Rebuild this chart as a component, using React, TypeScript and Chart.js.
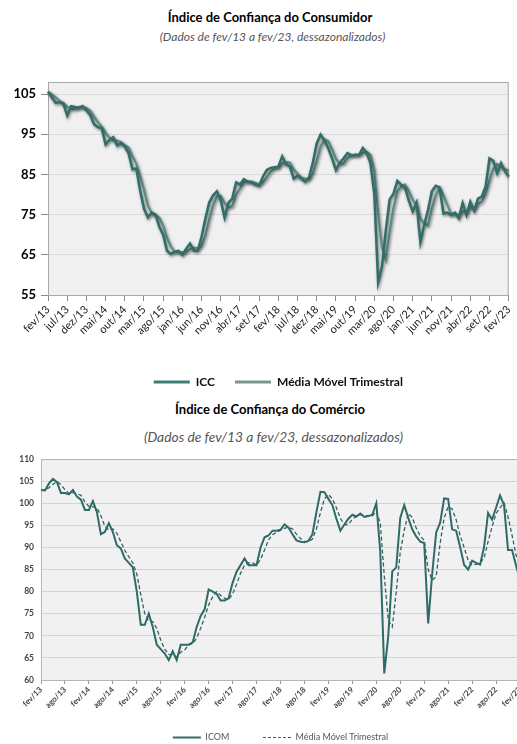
import React, { useEffect, useRef } from "react";
import { Chart, registerables } from "chart.js";

Chart.register(...registerables);

// ---------- categories ----------
const MONTHS = ["jan", "fev", "mar", "abr", "mai", "jun", "jul", "ago", "set", "out", "nov", "dez"];
const CATEGORIES: string[] = [];
for (let k = 0; k <= 120; k++) {
  CATEGORIES.push(`${MONTHS[(1 + k) % 12]}/${13 + Math.floor((1 + k) / 12)}`);
}

// ---------- Índice de Confiança do Consumidor ----------
const ICC = [
  105.6, 104.2, 102.8, 103.0, 102.6, 99.7, 102.0, 101.8, 101.5, 102.0,
  101.0, 99.8, 97.5, 96.8, 96.5, 92.5, 93.6, 94.3, 92.2, 92.8,
  92.0, 90.3, 86.3, 86.5, 81.0, 76.5, 74.3, 75.5, 75.0, 72.0,
  70.0, 66.0, 65.2, 65.8, 66.0, 65.0, 66.5, 67.8, 66.0, 66.0,
  69.5, 74.0, 78.0, 79.8, 80.8, 78.5, 74.3, 78.0, 79.0, 83.0,
  82.5, 83.8, 83.2, 83.0, 82.5, 82.2, 84.5, 86.1, 86.6, 86.8,
  86.9, 89.5, 87.5, 87.0, 84.0, 84.7, 84.0, 83.2, 84.3, 88.0,
  92.7, 94.9, 93.5, 91.5, 89.0, 86.1, 87.9, 89.0, 90.3, 89.8,
  89.8, 89.9, 91.6, 90.4, 87.8, 80.2, 58.2, 62.1, 71.1, 78.8,
  80.2, 83.4, 82.4, 81.7, 78.5, 75.8, 78.0, 68.2, 72.5, 76.2,
  80.9, 82.2, 81.8, 75.3, 75.5, 74.9, 75.5, 74.1, 77.9, 74.9,
  78.2, 76.0, 79.0, 79.5, 82.0, 89.0, 88.4, 85.3, 87.8, 85.8,
  84.5,
];
const ICC_MA = [
  105.6, 104.9, 104.2, 103.3, 102.8, 101.8, 101.4, 101.2, 101.8, 101.8,
  101.5, 100.9, 99.4, 98.0, 96.9, 95.3, 94.2, 93.5, 93.4, 93.1,
  92.3, 91.7, 89.5, 87.7, 84.6, 81.3, 77.3, 75.4, 74.9, 74.2,
  72.3, 69.3, 67.1, 65.7, 65.7, 65.6, 65.8, 66.4, 66.8, 66.6,
  67.2, 69.8, 73.8, 77.3, 79.5, 79.7, 77.9, 76.9, 77.1, 80.0,
  81.5, 83.1, 83.2, 83.3, 82.9, 82.6, 83.1, 84.3, 85.7, 86.5,
  86.8, 87.7, 88.0, 88.0, 86.2, 85.2, 84.2, 84.0, 83.8, 85.2,
  88.3, 91.9, 93.7, 93.3, 91.3, 88.9, 87.7, 87.7, 89.1, 89.7,
  90.0, 89.8, 90.4, 90.6, 89.9, 86.1, 75.4, 66.8, 63.8, 70.7,
  76.7, 80.8, 82.0, 82.5, 80.9, 78.7, 77.4, 74.0, 72.9, 72.3,
  76.5, 79.8, 81.6, 79.8, 77.5, 75.2, 75.3, 74.8, 75.8, 75.6,
  77.0, 76.4, 77.7, 78.2, 80.2, 83.5, 86.5, 87.6, 87.2, 86.3,
  86.0,
];
const ICC_Y_TICKS = [55, 65, 75, 85, 95, 105];
const ICC_Y_MIN = 55;
const ICC_Y_MAX = 108;
const ICC_LABEL_EVERY = 5;

// ---------- Índice de Confiança do Comércio ----------
const ICOM = [
  103.0, 102.9, 104.5, 105.5, 104.8, 102.3, 102.3, 102.0, 103.0, 101.5,
  100.8, 98.5, 98.5, 100.5, 98.0, 93.0, 93.5, 95.5, 93.5, 90.5,
  89.8, 87.5, 86.5, 85.5, 80.0, 72.5, 72.5, 75.0, 72.0, 68.0,
  67.0, 66.0, 64.5, 66.5, 64.5, 68.0, 68.0, 68.0, 68.5, 72.0,
  74.5, 76.0, 80.5, 80.0, 79.5, 78.0, 78.0, 78.5, 82.0, 84.5,
  86.0, 87.5, 86.0, 86.0, 86.0, 90.0, 92.3, 92.7, 93.8, 93.8,
  94.0, 95.2, 94.5, 93.0, 91.6, 91.3, 91.2, 91.5, 93.0, 98.0,
  102.6, 102.5, 101.0, 99.6, 96.5, 93.8, 95.2, 96.5, 97.4, 97.0,
  97.7, 96.9, 97.1, 97.4, 100.0, 89.0, 61.5, 70.0, 84.6, 85.5,
  96.7, 99.6, 96.7, 94.1, 92.5, 91.3, 91.0, 72.8, 84.0, 93.4,
  95.6, 101.1, 101.0, 94.1, 93.8, 90.1, 86.1, 85.0, 87.0, 86.5,
  86.1, 90.1, 97.8, 96.3, 99.0, 101.8, 99.6, 89.4, 89.4, 86.0,
  82.5,
];
const ICOM_MA = [
  103.0, 103.0, 103.5, 104.3, 104.9, 104.2, 103.1, 102.2, 102.4, 102.2,
  101.8, 100.3, 99.3, 99.2, 99.0, 97.2, 94.8, 94.0, 94.2, 93.2,
  91.3, 89.3, 87.9, 86.5, 84.0, 79.3, 75.0, 73.3, 73.2, 71.7,
  69.0, 67.0, 65.8, 65.7, 65.2, 66.3, 66.8, 68.0, 68.2, 69.5,
  71.7, 74.2, 77.0, 78.8, 80.0, 79.2, 78.5, 78.2, 79.5, 81.7,
  84.2, 86.0, 86.5, 86.5, 86.0, 87.3, 89.4, 91.7, 92.9, 93.4,
  93.9, 94.3, 94.6, 94.2, 93.0, 92.0, 91.4, 91.3, 91.9, 94.2,
  97.9, 101.0, 102.0, 101.0, 99.0, 96.6, 95.2, 95.2, 96.4, 97.0,
  97.4, 97.2, 97.2, 97.1, 98.2, 95.5, 83.5, 73.5, 72.0, 80.0,
  88.9, 93.9, 97.7, 96.8, 94.4, 92.6, 91.6, 85.0, 82.6, 83.4,
  91.0, 96.7, 99.2, 98.7, 96.3, 92.7, 90.0, 87.1, 86.0, 86.2,
  86.5, 87.6, 91.3, 94.7, 97.7, 99.0, 100.1, 96.9, 92.8, 88.3,
  86.0,
];
const ICOM_Y_MIN = 60;
const ICOM_Y_MAX = 110;
const ICOM_Y_STEP = 5;
const ICOM_LABEL_EVERY = 6;

// ---------- plugins ----------
const plotFrame = (bg: string, border: string) => ({
  id: "plotFrame",
  beforeDraw(chart: any) {
    const { ctx, chartArea: a } = chart;
    ctx.save();
    ctx.fillStyle = bg;
    ctx.fillRect(a.left, a.top, a.right - a.left, a.bottom - a.top);
    ctx.restore();
  },
  beforeDatasetsDraw(chart: any) {
    const { ctx, chartArea: a } = chart;
    ctx.save();
    ctx.strokeStyle = border;
    ctx.lineWidth = 1;
    ctx.strokeRect(a.left + 0.5, a.top + 0.5, a.right - a.left - 1, a.bottom - a.top);
    ctx.restore();
  },
});

const lineShadow = {
  id: "lineShadow",
  beforeDatasetDraw(chart: any) {
    const ctx = chart.ctx;
    ctx.save();
    ctx.shadowColor = "rgba(0,0,0,0.5)";
    ctx.shadowBlur = 3;
    ctx.shadowOffsetX = 1;
    ctx.shadowOffsetY = 1.5;
  },
  afterDatasetDraw(chart: any) {
    chart.ctx.restore();
  },
};

const FONT = "Lato, 'Open Sans', sans-serif";

function useChart(ref: React.RefObject<HTMLCanvasElement>, make: (c: HTMLCanvasElement) => Chart) {
  useEffect(() => {
    if (!ref.current) return;
    const chart = make(ref.current);
    return () => chart.destroy();
  }, []);
}

export default function App() {
  const c1 = useRef<HTMLCanvasElement>(null);
  const c2 = useRef<HTMLCanvasElement>(null);

  useChart(c1, (el) =>
    new Chart(el, {
      type: "line",
      data: {
        labels: CATEGORIES,
        datasets: [
          {
            label: "ICC",
            data: ICC,
            borderColor: "#2f6f68",
            backgroundColor: "#3d7f74",
            borderWidth: 2.5,
            pointRadius: 0,
            tension: 0,
          },
          {
            label: "Média Móvel Trimestral",
            data: ICC_MA,
            borderColor: "#5e918a",
            backgroundColor: "#6f8f8b",
            borderWidth: 2.2,
            pointRadius: 0,
            tension: 0,
          },
        ],
      },
      plugins: [plotFrame("#f0f0f0", "#a8a8a8"), lineShadow],
      options: {
        animation: false,
        responsive: false,
        maintainAspectRatio: false,
        layout: { padding: { top: 32, right: 4, left: 0, bottom: 0 } },
        plugins: {
          title: { display: false },
          tooltip: { enabled: false },
          legend: {
            position: "bottom",
            fullSize: false,
            labels: {
              usePointStyle: true,
              pointStyle: "line",
              pointStyleWidth: 36,
              boxHeight: 12,
              padding: 20,
              color: "#111",
              font: { family: FONT, size: 12, weight: "bold" },
              generateLabels: (chart: any) =>
                chart.data.datasets.map((d: any, i: number) => ({
                  text: d.label,
                  strokeStyle: i === 0 ? "#3d7f74" : "#7a9590",
                  fillStyle: i === 0 ? "#3d7f74" : "#7a9590",
                  lineWidth: 3,
                  pointStyle: "line",
                  datasetIndex: i,
                  hidden: false,
                  fontColor: "#111",
                })),
            },
          },
        },
        scales: {
          x: {
            type: "category",
            offset: false,
            afterBuildTicks: (axis: any) => {
              axis.ticks = axis.ticks.filter((t: any) => t.value % ICC_LABEL_EVERY === 0);
            },
            afterFit: (s: any) => {
              s.height = 61;
            },
            ticks: {
              autoSkip: false,
              maxRotation: 45,
              minRotation: 45,
              padding: 2,
              color: "#222",
              font: { family: FONT, size: 11 },
            },
            grid: { display: true, drawOnChartArea: false, drawTicks: true, tickLength: 6, tickColor: "#8a8a8a" },
            border: { display: true, color: "#8a8a8a" },
          },
          y: {
            min: ICC_Y_MIN,
            max: ICC_Y_MAX,
            afterBuildTicks: (axis: any) => {
              axis.ticks = ICC_Y_TICKS.map((v) => ({ value: v }));
            },
            afterFit: (s: any) => {
              s.width = 48;
            },
            ticks: {
              padding: 5,
              color: "#000",
              font: { family: FONT, size: 13, weight: "bold" },
            },
            grid: { color: "#d9d9d9", tickLength: 7, tickColor: "#8a8a8a", drawTicks: true },
            border: { display: true, color: "#8a8a8a" },
          },
        },
      },
    } as any)
  );

  useChart(c2, (el) =>
    new Chart(el, {
      type: "line",
      data: {
        labels: CATEGORIES,
        datasets: [
          {
            label: "ICOM",
            data: ICOM,
            borderColor: "#2e6b66",
            borderWidth: 2,
            pointRadius: 0,
            tension: 0,
          },
          {
            label: "Média Móvel Trimestral",
            data: ICOM_MA,
            borderColor: "#35615d",
            borderWidth: 1.3,
            borderDash: [4, 2.5],
            pointRadius: 0,
            tension: 0,
          },
        ],
      },
      plugins: [plotFrame("#f1f1f1", "#b5b5b5")],
      options: {
        animation: false,
        responsive: false,
        maintainAspectRatio: false,
        layout: { padding: { top: 10, right: 15, left: 0, bottom: 0 } },
        plugins: {
          title: { display: false },
          tooltip: { enabled: false },
          legend: {
            position: "bottom",
            fullSize: false,
            labels: {
              usePointStyle: true,
              pointStyle: "line",
              pointStyleWidth: 28,
              boxHeight: 9,
              padding: 6,
              color: "#555",
              font: { family: FONT, size: 9 },
              generateLabels: (chart: any) =>
                chart.data.datasets.map((d: any, i: number) => ({
                  text: i === 0 ? d.label + "            " : d.label,
                  strokeStyle: i === 0 ? "#2e6b66" : "#555",
                  fillStyle: i === 0 ? "#2e6b66" : "#555",
                  lineWidth: i === 0 ? 2 : 1,
                  lineDash: i === 0 ? [] : [3, 2],
                  pointStyle: "line",
                  datasetIndex: i,
                  hidden: false,
                  fontColor: "#555",
                })),
            },
          },
        },
        scales: {
          x: {
            type: "category",
            offset: false,
            afterBuildTicks: (axis: any) => {
              axis.ticks = axis.ticks.filter((t: any) => t.value % ICOM_LABEL_EVERY === 0);
            },
            afterFit: (s: any) => {
              s.height = 47;
            },
            ticks: {
              autoSkip: false,
              maxRotation: 45,
              minRotation: 45,
              padding: 1,
              color: "#444",
              font: { family: FONT, size: 8, weight: "bold" },
            },
            grid: { display: true, drawOnChartArea: false, drawTicks: true, tickLength: 4, tickColor: "#9a9a9a" },
            border: { display: true, color: "#9a9a9a" },
          },
          y: {
            min: ICOM_Y_MIN,
            max: ICOM_Y_MAX,
            afterFit: (s: any) => {
              s.width = 41;
            },
            ticks: {
              stepSize: ICOM_Y_STEP,
              padding: 7,
              color: "#444",
              font: { family: FONT, size: 8.5, weight: "bold" },
            },
            grid: { color: "#d4d4d4", drawTicks: false },
            border: { display: true, color: "#9a9a9a" },
          },
        },
      },
    } as any)
  );

  const abs = (extra: React.CSSProperties): React.CSSProperties => ({ position: "absolute", ...extra });

  return (
    <div
      style={{
        position: "fixed",
        left: 0,
        top: 0,
        width: 517,
        height: 744,
        overflow: "hidden",
        background: "#fff",
        fontFamily: FONT,
      }}
    >
      <div style={abs({ left: 0, top: 9, width: 540, textAlign: "center", fontSize: 13, fontWeight: "bold", lineHeight: "16px", color: "#000" })}>
        Índice de Confiança do Consumidor
      </div>
      <div style={abs({ left: 0, top: 30, width: 545, textAlign: "center", fontSize: 12, lineHeight: "14px", fontStyle: "italic", color: "#555" })}>
        (Dados de fev/13 a fev/23, dessazonalizados)
      </div>
      <canvas ref={c1} width={520} height={348} style={abs({ left: 0, top: 50, width: 520, height: 348 })} />

      <div style={abs({ left: 0, top: 401, width: 540, textAlign: "center", fontSize: 13, fontWeight: "bold", lineHeight: "16px", color: "#000" })}>
        Índice de Confiança do Comércio
      </div>
      <div style={abs({ left: 0, top: 429, width: 547, textAlign: "center", fontSize: 13.8, lineHeight: "16px", fontStyle: "italic", color: "#555" })}>
        (Dados de fev/13 a fev/23, dessazonalizados)
      </div>
      <canvas ref={c2} width={535} height={305} style={abs({ left: 0, top: 447, width: 535, height: 305 })} />
    </div>
  );
}
